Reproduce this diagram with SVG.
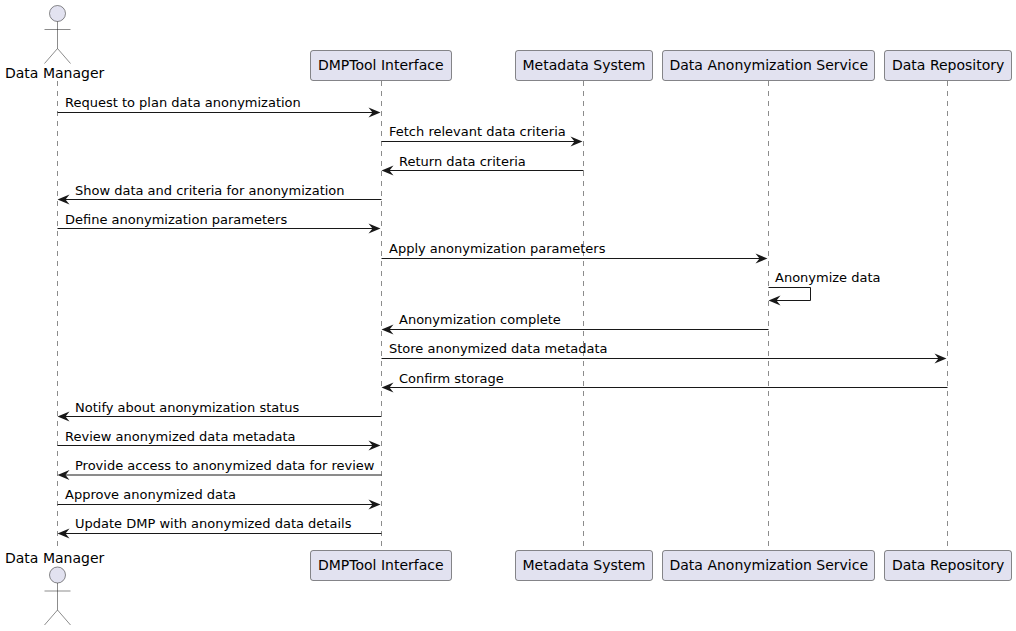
<svg xmlns="http://www.w3.org/2000/svg" width="1016" height="631" viewBox="0 0 1016 631">
<style>
text{font-family:"DejaVu Sans",sans-serif;fill:#000}
.p{font-size:14px}
.m{font-size:13px}
.box{fill:#E2E2F0;stroke:#181818;stroke-width:.5}
.life{stroke:#181818;stroke-width:.5;stroke-dasharray:5 5;fill:none}
.act{fill:#E2E2F0;stroke:#181818;stroke-width:.5}
.ln{fill:none;stroke:#181818;stroke-width:1}
.ah{fill:#181818;stroke:none}
</style>
<defs>
<g id="actor"><circle cx="57.5" cy="13.5" r="8" class="act"/><path class="act" style="fill:none" d="M57.5 21.5V48.5M44.5 29.5H70.5M57.5 48.5L44.5 63.5M57.5 48.5L70.5 63.5"/></g>
<path id="r" class="ah" d="M0 0L-12-5L-8 0L-12 5Z"/>
<path id="l" class="ah" d="M0 0L12-5L8 0L12 5Z"/>
</defs>
<g id="lifelines">
<path class="life" d="M57.500 81V549"/><path class="life" d="M381.500 81V549"/><path class="life" d="M583.500 81V549"/><path class="life" d="M768.500 81V549"/><path class="life" d="M947.500 81V549"/>
</g>
<g id="data-manager-top"><use href="#actor"/><text class="p" x="5" y="77.500">Data Manager</text></g>
<g id="data-manager-bottom"><use href="#actor" y="561.500"/><text class="p" x="5" y="562.500">Data Manager</text></g>
<g id="dmptool-top"><rect class="box" x="310.500" y="50.500" width="141" height="30" rx="2.500"/><text class="p" x="318" y="70">DMPTool Interface</text></g>
<g id="metadata-top"><rect class="box" x="515.500" y="50.500" width="137" height="30" rx="2.500"/><text class="p" x="522.500" y="70">Metadata System</text></g>
<g id="anon-top"><rect class="box" x="662.500" y="50.500" width="212" height="30" rx="2.500"/><text class="p" x="669.500" y="70">Data Anonymization Service</text></g>
<g id="repo-top"><rect class="box" x="884.500" y="50.500" width="127" height="30" rx="2.500"/><text class="p" x="892" y="70">Data Repository</text></g>
<g id="dmptool-bottom"><rect class="box" x="310.500" y="550.500" width="141" height="30" rx="2.500"/><text class="p" x="318" y="570">DMPTool Interface</text></g>
<g id="metadata-bottom"><rect class="box" x="515.500" y="550.500" width="137" height="30" rx="2.500"/><text class="p" x="522.500" y="570">Metadata System</text></g>
<g id="anon-bottom"><rect class="box" x="662.500" y="550.500" width="212" height="30" rx="2.500"/><text class="p" x="669.500" y="570">Data Anonymization Service</text></g>
<g id="repo-bottom"><rect class="box" x="884.500" y="550.500" width="127" height="30" rx="2.500"/><text class="p" x="892" y="570">Data Repository</text></g>
<g id="connectors">
<path class="ln" d="M57.500 112.500H375"/><use href="#r" x="380.500" y="112.500"/><text class="m" x="65" y="107">Request to plan data anonymization</text>
<path class="ln" d="M381.500 141.500H577"/><use href="#r" x="582.500" y="141.500"/><text class="m" x="389" y="136">Fetch relevant data criteria</text>
<path class="ln" d="M388 170.500H583.500"/><use href="#l" x="381.500" y="170.500"/><text class="m" x="399" y="166">Return data criteria</text>
<path class="ln" d="M64 199.500H381.500"/><use href="#l" x="57.500" y="199.500"/><text class="m" x="75" y="195">Show data and criteria for anonymization</text>
<path class="ln" d="M57.500 228.500H375"/><use href="#r" x="380.500" y="228.500"/><text class="m" x="65" y="224">Define anonymization parameters</text>
<path class="ln" d="M381.500 258.500H762"/><use href="#r" x="767.500" y="258.500"/><text class="m" x="389" y="253">Apply anonymization parameters</text>
<path class="ln" d="M768.500 287.500H810.500V300.500H775"/><use href="#l" x="768.500" y="300.500"/><text class="m" x="775" y="282">Anonymize data</text>
<path class="ln" d="M388 329.500H768.500"/><use href="#l" x="381.500" y="329.500"/><text class="m" x="399" y="324">Anonymization complete</text>
<path class="ln" d="M381.500 358.500H941"/><use href="#r" x="946.500" y="358.500"/><text class="m" x="389" y="353">Store anonymized data metadata</text>
<path class="ln" d="M388 387.500H947.500"/><use href="#l" x="381.500" y="387.500"/><text class="m" x="399" y="383">Confirm storage</text>
<path class="ln" d="M64 416.500H381.500"/><use href="#l" x="57.500" y="416.500"/><text class="m" x="75" y="412">Notify about anonymization status</text>
<path class="ln" d="M57.500 445.500H375"/><use href="#r" x="380.500" y="445.500"/><text class="m" x="65" y="441">Review anonymized data metadata</text>
<path class="ln" d="M64 475H381.500"/><use href="#l" x="57.500" y="475"/><text class="m" x="75" y="470">Provide access to anonymized data for review</text>
<path class="ln" d="M57.500 504.500H375"/><use href="#r" x="380.500" y="504.500"/><text class="m" x="65" y="499">Approve anonymized data</text>
<path class="ln" d="M64 533.500H381.500"/><use href="#l" x="57.500" y="533.500"/><text class="m" x="75" y="528">Update DMP with anonymized data details</text>
</g>
</svg>
